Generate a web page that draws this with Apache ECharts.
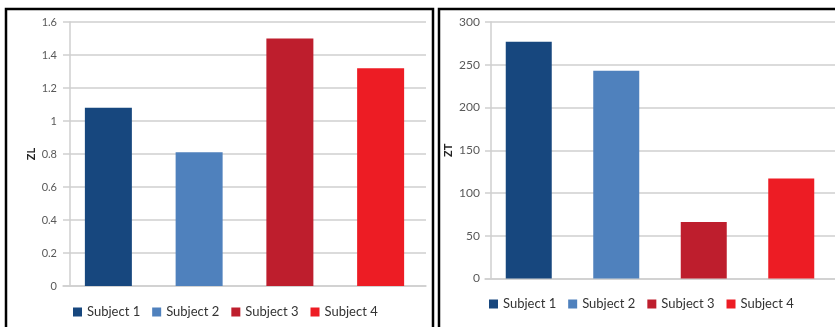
<!DOCTYPE html>
<html>
<head>
<meta charset="utf-8">
<script src="https://cdn.jsdelivr.net/npm/echarts@6/dist/echarts.min.js"></script>
<style>
  html, body { margin: 0; padding: 0; background: #fff; }
  #main { width: 835px; height: 327px; }
</style>
</head>
<body>
<div id="main"></div>
<script>
// 数据
const subjects = ["Subject 1", "Subject 2", "Subject 3", "Subject 4"];
const zlValues = [1.08, 0.81, 1.5, 1.32];
const ztValues = [277, 243, 66, 117];
const subjectColors = ["#17477e", "#4f81bd", "#be1e2d", "#ed1c24"];

const chart = echarts.init(document.getElementById("main"), null, { renderer: "canvas" });

const FONT = "Lato";
const labelColor = "#595959";
const gridColor = "#cfcfcf";

// 每个科目一个系列，只在自己的类目上有值，barGap -100% 让它们居中对齐
const makeSeries = (values, axisIndex, barWidth) =>
    subjects.map((name, i) => ({
        name: name,
        type: "bar",
        xAxisIndex: axisIndex,
        yAxisIndex: axisIndex,
        barWidth: barWidth,
        barGap: "-100%",
        itemStyle: { color: subjectColors[i] },
        data: values.map((v, j) => (j === i ? v : "-")),
    }));

const yAxisBase = (name, offset, margin, gap, fontSize) => ({
    type: "value",
    offset: offset,
    name: name,
    nameLocation: "middle",
    nameGap: gap,
    nameRotate: 90,
    nameTextStyle: { fontFamily: FONT, fontWeight: "bold", fontSize: 11, color: "#222" },
    axisLine: { show: true, lineStyle: { color: gridColor, width: 1.5 } },
    axisTick: { show: false },
    axisLabel: { margin: margin, fontFamily: FONT, fontSize: fontSize, color: labelColor },
    splitLine: { lineStyle: { color: gridColor, width: 1.5 } },
});

const legendBase = (left, top) => ({
    left: left,
    top: top,
    padding: 0,
    icon: "rect",
    itemWidth: 9,
    itemHeight: 9,
    itemGap: 12,
    data: subjects,
    textStyle: { fontFamily: FONT, fontSize: 13, color: "#333", width: 52, lineHeight: 14 },
});

const option = {
    animation: false,
    backgroundColor: "#fff",
    graphic: [
        {
            type: "rect",
            shape: { x: 6, y: 9, width: 427, height: 340 },
            style: { fill: "none", stroke: "#000", lineWidth: 2.5 },
        },
        {
            type: "rect",
            shape: { x: 439, y: 9, width: 420, height: 340 },
            style: { fill: "none", stroke: "#000", lineWidth: 2.5 },
        },
    ],
    grid: [
        { left: 63, top: 22, width: 363, height: 264 },
        { left: 485, top: 22, width: 354, height: 256.5 },
    ],
    xAxis: [0, 1].map((idx) => ({
        type: "category",
        gridIndex: idx,
        data: subjects,
        axisLine: { lineStyle: { color: gridColor, width: 1.5 } },
        axisTick: { show: false },
        axisLabel: { show: false },
    })),
    yAxis: [
        Object.assign(yAxisBase("ZL", -7, 13, 33, 11), {
            gridIndex: 0, min: 0, max: 1.6, interval: 0.2,
        }),
        Object.assign(yAxisBase("ZT", -6, 11, 37, 12), {
            gridIndex: 1, min: 0, max: 300, interval: 50,
        }),
    ],
    legend: [legendBase(73, 305), legendBase(489, 297)],
    series: [...makeSeries(zlValues, 0, 47), ...makeSeries(ztValues, 1, 46)],
};

chart.setOption(option);
window.addEventListener("resize", chart.resize);
</script>
</body>
</html>
